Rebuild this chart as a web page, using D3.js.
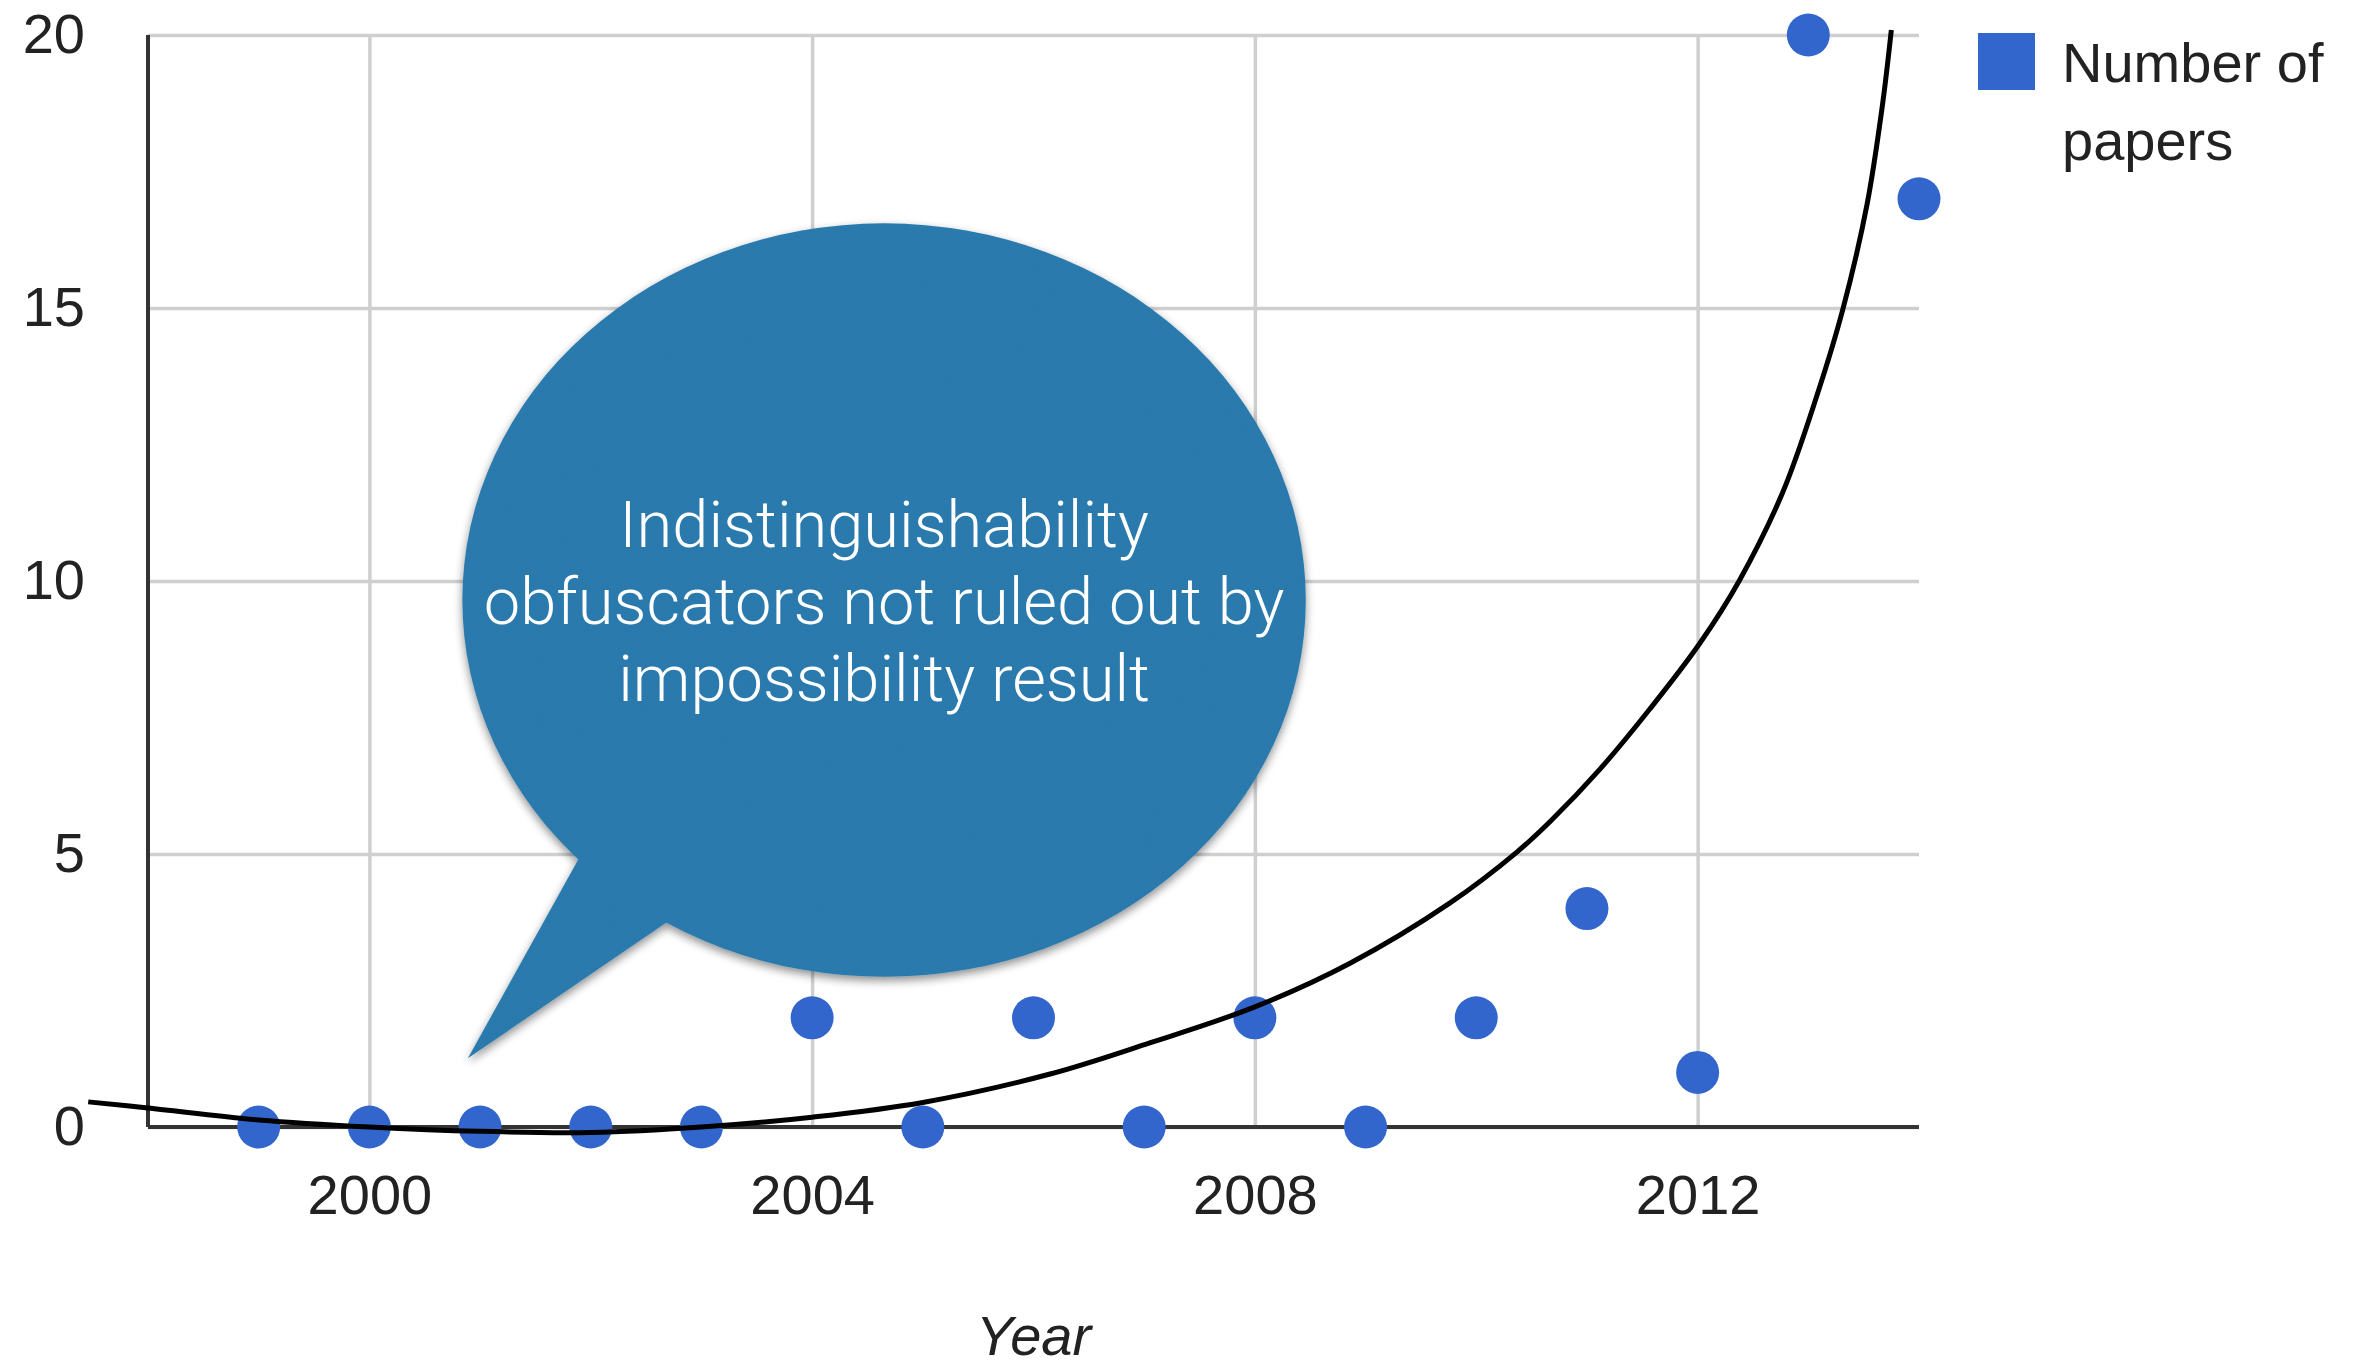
<!DOCTYPE html>
<html lang="en">
<head>
<meta charset="utf-8">
<script src="https://cdn.jsdelivr.net/npm/d3@7/dist/d3.min.js"></script>
<title>Number of papers by year</title>
<style>
  body { margin: 0; background: #fff; }
  svg { display: block; }
</style>
</head>
<body>
<svg width="2362" height="1369"></svg>
<script>
// data
var years = [1999, 2000, 2001, 2002, 2003, 2004, 2005, 2006, 2007, 2008, 2009, 2010, 2011, 2012, 2013, 2014];
var papers = [0, 0, 0, 0, 0, 2, 0, 2, 0, 2, 0, 2, 4, 1, 20, 17];

// hand drawn trend curve, sampled along the black line
var trendYears = [1997.46, 1998.0, 1999.0, 2000.0, 2001.0, 2002.0, 2003.0, 2004.0, 2005.0, 2006.15, 2007.05, 2008.0, 2008.86, 2009.76, 2010.37, 2010.67, 2011.12, 2011.57, 2012.02, 2012.38, 2012.77, 2013.08, 2013.31, 2013.53, 2013.67, 2013.75];
var trendValues = [0.46, 0.35, 0.13, 0.0, -0.08, -0.1, 0.0, 0.18, 0.45, 0.97, 1.54, 2.2, 3.0, 4.1, 5.04, 5.6, 6.56, 7.66, 8.86, 10.02, 11.63, 13.41, 14.96, 16.89, 18.72, 20.09];

var xTicks = [2000, 2004, 2008, 2012];
var yTicks = [0, 5, 10, 15, 20];
var legendLines = ["Number of", "papers"];
var bubbleLines = ["Indistinguishability", "obfuscators not ruled out by", "impossibility result"];

var margin = {top: 35, right: 443, bottom: 242, left: 148};
var width = 2362 - margin.left - margin.right;
var height = 1369 - margin.top - margin.bottom;

var svg = d3.select("svg");
var g = svg.append("g")
    .attr("transform", "translate(" + margin.left + "," + margin.top + ")");

var x = d3.scaleLinear().domain([1998, 2014]).range([0, width]);
var y = d3.scaleLinear().domain([0, 20]).range([height, 0]);

var labelFont = "'Liberation Sans', Arial, sans-serif";

// gridlines + tick labels
var yAxis = g.append("g")
    .call(d3.axisLeft(y).tickValues(yTicks).tickSize(-width).tickPadding(63));
var xAxis = g.append("g")
    .attr("transform", "translate(0," + height + ")")
    .call(d3.axisBottom(x).tickValues(xTicks).tickFormat(d3.format("d")).tickSize(-height).tickPadding(47));

[yAxis, xAxis].forEach(function(a) {
    a.select(".domain").remove();
    a.selectAll("line").attr("stroke", "#cfcfcf").attr("stroke-width", 3.5);
    a.selectAll("text")
        .attr("fill", "#222")
        .style("font-family", labelFont)
        .style("font-size", "56px");
});

// axis lines
g.append("line").attr("x1", 0).attr("x2", 0).attr("y1", 0).attr("y2", height)
    .attr("stroke", "#333").attr("stroke-width", 4);
g.append("line").attr("x1", 0).attr("x2", width).attr("y1", height).attr("y2", height)
    .attr("stroke", "#333").attr("stroke-width", 4);

// points
g.selectAll(".dot")
    .data(years)
    .enter().append("circle")
    .attr("class", "dot")
    .attr("cx", function(d) { return x(d); })
    .attr("cy", function(d, i) { return y(papers[i]); })
    .attr("r", 21.5)
    .attr("fill", "#3366cc");

// trend curve
var line = d3.line()
    .x(function(d) { return x(d); })
    .y(function(d, i) { return y(trendValues[i]); })
    .curve(d3.curveCatmullRom.alpha(0.5));
g.append("path")
    .attr("d", line(trendYears))
    .attr("fill", "none")
    .attr("stroke", "#000")
    .attr("stroke-width", 5);

// x axis title
g.append("text")
    .attr("x", width / 2)
    .attr("y", height + 228)
    .attr("text-anchor", "middle")
    .attr("fill", "#222")
    .style("font-family", labelFont)
    .style("font-size", "56px")
    .style("font-style", "italic")
    .text("Year");

// legend
var legend = svg.append("g").attr("transform", "translate(1978,33)");
legend.append("rect").attr("width", 57).attr("height", 57).attr("fill", "#3366cc");
legend.selectAll("text")
    .data(legendLines)
    .enter().append("text")
    .attr("x", 84)
    .attr("y", function(d, i) { return 49 + i * 78; })
    .attr("fill", "#222")
    .style("font-family", labelFont)
    .style("font-size", "56px")
    .text(function(d) { return d; });

// speech bubble annotation, placed in data units
var bubble = {cx: 2004.65, cy: 9.65, rx: 3.81, ry: 6.9};
var tail = [[2001.885, 4.89], [2000.89, 1.26], [2002.68, 3.74], [2004.65, 9.65]];

var defs = svg.append("defs");
var shadow = defs.append("filter").attr("id", "shadow")
    .attr("x", "-10%").attr("y", "-10%").attr("width", "120%").attr("height", "120%");
shadow.append("feTurbulence")
    .attr("type", "fractalNoise").attr("baseFrequency", 0.9).attr("numOctaves", 2).attr("seed", 3)
    .attr("result", "noise");
shadow.append("feColorMatrix").attr("in", "noise").attr("type", "matrix")
    .attr("values", "0 0 0 0 0  0 0 0 0 0.1  0 0 0 0 0.2  0 0 0 0.14 0")
    .attr("result", "grain");
shadow.append("feComposite").attr("in", "grain").attr("in2", "SourceGraphic").attr("operator", "in")
    .attr("result", "grainIn");
shadow.append("feMerge").attr("result", "textured")
    .call(function(m) {
        m.append("feMergeNode").attr("in", "SourceGraphic");
        m.append("feMergeNode").attr("in", "grainIn");
    });
shadow.append("feGaussianBlur").attr("in", "SourceAlpha").attr("stdDeviation", 5).attr("result", "blur");
shadow.append("feOffset").attr("in", "blur").attr("dx", 0).attr("dy", 4).attr("result", "off");
shadow.append("feComponentTransfer").attr("in", "off").attr("result", "shade")
    .append("feFuncA").attr("type", "linear").attr("slope", 0.45);
shadow.append("feMerge")
    .call(function(m) {
        m.append("feMergeNode").attr("in", "shade");
        m.append("feMergeNode").attr("in", "textured");
    });

var bg = g.append("g").attr("filter", "url(#shadow)");
bg.append("ellipse")
    .attr("cx", x(bubble.cx))
    .attr("cy", y(bubble.cy))
    .attr("rx", x(bubble.cx + bubble.rx) - x(bubble.cx))
    .attr("ry", y(bubble.cy) - y(bubble.cy + bubble.ry))
    .attr("fill", "#2f7db0");
bg.append("path")
    .attr("d", d3.line().x(function(d) { return x(d[0]); }).y(function(d) { return y(d[1]); })(tail) + "Z")
    .attr("fill", "#2f7db0");

g.selectAll(".bubble-text")
    .data(bubbleLines)
    .enter().append("text")
    .attr("class", "bubble-text")
    .attr("x", x(bubble.cx))
    .attr("y", function(d, i) { return y(bubble.cy) - 53 + i * 77; })
    .attr("text-anchor", "middle")
    .attr("fill", "#fff")
    .style("font-family", "Roboto, 'Open Sans', sans-serif")
    .style("font-weight", 300)
    .style("font-size", "65px")
    .text(function(d) { return d; });
</script>
</body>
</html>
